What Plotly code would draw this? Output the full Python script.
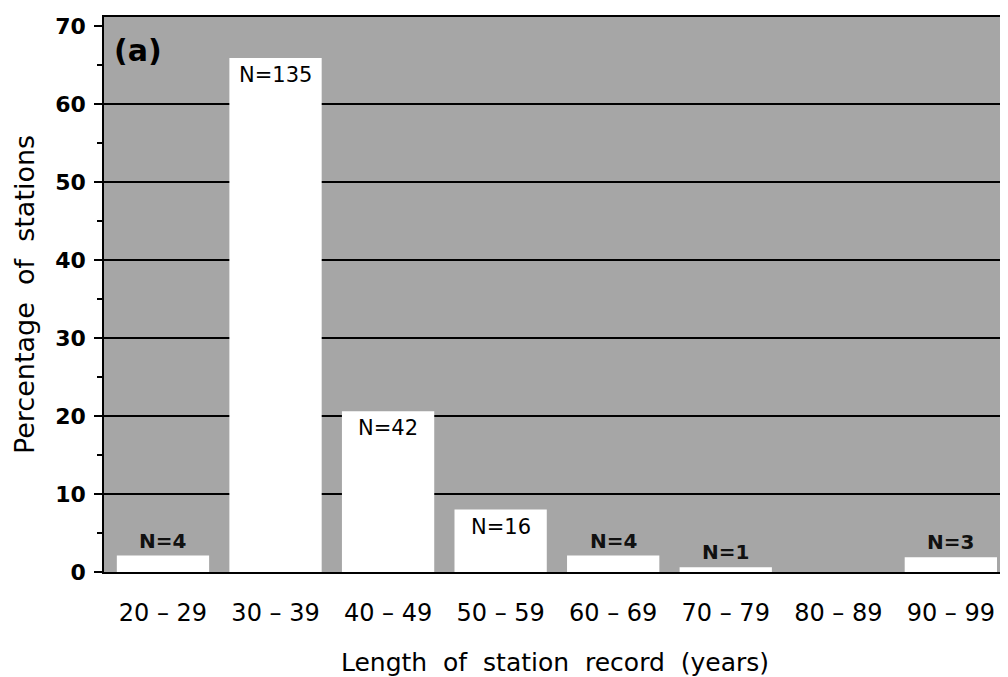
import plotly.graph_objects as go

# ---- data ----
categories = ["20 – 29", "30 – 39", "40 – 49", "50 – 59", "60 – 69", "70 – 79", "80 – 89", "90 – 99"]
percent = [2.1, 65.9, 20.6, 8.0, 2.1, 0.6, 0.0, 1.9]
n_labels = ["N=4", "N=135", "N=42", "N=16", "N=4", "N=1", "", "N=3"]
label_inside = [False, True, True, True, False, False, False, False]
grid_values = [10, 20, 30, 40, 50, 60]
y_ticks = [0, 10, 20, 30, 40, 50, 60, 70]
y_minor_ticks = [5, 15, 25, 35, 45, 55, 65]

FONT = "DejaVu Sans"

fig = go.Figure()
fig.add_trace(go.Bar(
    x=categories, y=percent,
    marker=dict(color="white", line=dict(width=0)),
    hoverinfo="skip",
))

annotations = []
for cat, val, lab, inside in zip(categories, percent, n_labels, label_inside):
    if not lab:
        continue
    if inside:
        annotations.append(dict(
            x=cat, y=val, xref="x", yref="y", text=lab, showarrow=False,
            yanchor="top", yshift=-3,
            font=dict(family=FONT, size=21, color="black"),
        ))
    else:
        annotations.append(dict(
            x=cat, y=val, xref="x", yref="y", text="<b>" + lab + "</b>", showarrow=False,
            yanchor="bottom", yshift=1,
            font=dict(family=FONT, size=20, color="#111111"),
        ))

annotations.append(dict(
    x=0.038, y=0.94, xref="paper", yref="paper", text="<b>(a)</b>", showarrow=False,
    xanchor="center", yanchor="middle",
    font=dict(family=FONT, size=30, color="black"),
))

shapes = [dict(type="line", xref="paper", yref="y", x0=0, x1=1, y0=g, y1=g,
               line=dict(color="black", width=2), layer="below")
          for g in grid_values]

# page body has an 8px margin, so the figure is 8px smaller and offset
fig.update_layout(
    width=1000, height=669,
    margin=dict(l=96, r=2, t=9, b=105),
    paper_bgcolor="white",
    plot_bgcolor="#a6a6a6",
    bargap=0.18,
    showlegend=False,
    annotations=annotations,
    shapes=shapes,
    font=dict(family=FONT, color="black"),
)

fig.update_xaxes(
    range=[-0.524, 7.49],
    showgrid=False, zeroline=False,
    showline=True, linecolor="black", linewidth=2, mirror=True,
    ticks="", ticklabelstandoff=18,
    tickfont=dict(family=FONT, size=24, color="black"),
    title=dict(text="Length  of  station  record  (years)",
               font=dict(family=FONT, size=25, color="black"), standoff=30),
)

fig.update_yaxes(
    range=[0, 71.15],
    tickmode="array", tickvals=y_ticks,
    showgrid=False, zeroline=False,
    showline=True, linecolor="black", linewidth=1.5, mirror=False,
    ticks="outside", ticklen=8, tickwidth=2, tickcolor="black",
    minor=dict(ticks="outside", ticklen=5, tickwidth=1.5, tickcolor="black",
               tickmode="array", tickvals=y_minor_ticks, showgrid=False),
    ticklabelstandoff=4,
    tickfont=dict(family=FONT, size=22, color="black", weight="bold"),
    title=dict(text="Percentage  of  stations",
               font=dict(family=FONT, size=27, color="black"), standoff=13),
)

fig.write_html("out.html")
